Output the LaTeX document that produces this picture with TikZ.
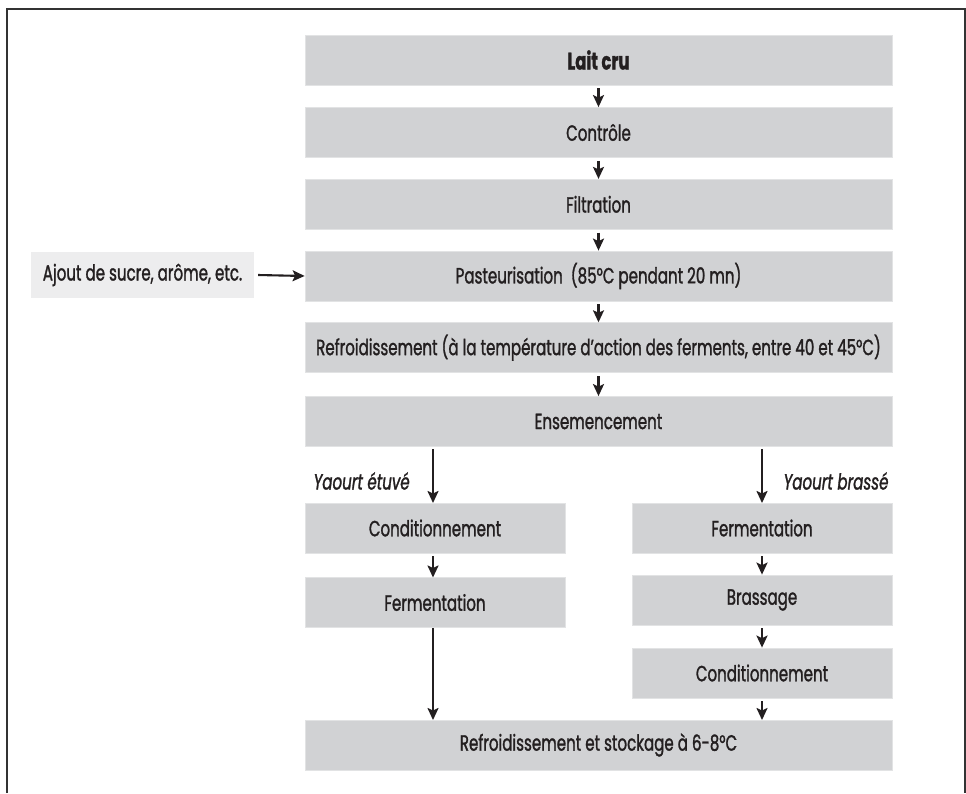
\documentclass[tikz,border=0pt]{standalone}
\usepackage{fontspec}
\setmainfont{Poppins}[FakeStretch=0.685, FakeBold=1.3]
\usetikzlibrary{arrows.meta}
\definecolor{boxgray}{HTML}{D1D2D4}
\definecolor{boxedge}{HTML}{E2E3E4}
\definecolor{lightgray}{HTML}{EDEDEE}
\definecolor{ink}{HTML}{231F20}
\begin{document}
\begin{tikzpicture}[x=1pt,y=-1pt,
  every node/.style={font=\fontsize{22}{26}\selectfont, text=ink},
  stepbox/.style={fill=boxgray, draw=boxedge, line width=0.8pt, inner sep=0pt, minimum height=50pt},
  wide/.style={stepbox, minimum width=587pt},
  half/.style={stepbox, minimum width=260pt},
  flow/.style={draw=ink, line width=2.1pt, -{Stealth[length=12pt,width=11pt,inset=2.5pt]}},
  branchlbl/.style={font=\fontsize{22}{26}\selectfont\itshape}
]
\useasboundingbox (0,0) rectangle (966,793);
\draw[line width=2pt, color=black!80] (7,793) -- (7,9) -- (965,9) -- (965,793);

\node[wide] (lait) at (598.5,60) {\fontsize{24}{28}\selectfont\bfseries Lait cru};
\node[wide] (ctrl) at (598.5,132.5) {Contrôle};
\node[wide] (filt) at (598.5,204.3) {Filtration};
\node[wide] (past) at (598.5,276) {Pasteurisation\ \ (85°C pendant 20 mn)};
\node[wide] (refr) at (598.5,347.7) {Refroidissement (à la température d’action des ferments, entre 40 et 45°C)};
\node[wide] (ense) at (598.5,421.5) {Ensemencement};

\node[half] (condL) at (435,528) {Conditionnement};
\node[half] (fermL) at (435,602.5) {Fermentation};
\node[half] (fermR) at (762,528) {Fermentation};
\node[half] (brass) at (762,600) {Brassage};
\node[half] (condR) at (762,673) {Conditionnement};

\node[wide, minimum height=50pt] (stock) at (598.5,745) {Refroidissement et stockage à 6-8°C};

\node[fill=lightgray, inner sep=0pt, minimum width=223pt, minimum height=46pt] (ajout) at (142.5,275) {Ajout de sucre, arôme, etc.};

\node[branchlbl, anchor=west] (lblL) at (310,481) {Yaourt étuvé};
\node[branchlbl, anchor=east] (lblR) at (892,481) {Yaourt brassé};

\draw[flow] (lait.south) ++(0,3) -- (ctrl.north);
\draw[flow] (ctrl.south) ++(0,3) -- (filt.north);
\draw[flow] (filt.south) ++(0,3) -- (past.north);
\draw[flow] (past.south) ++(0,3) -- (refr.north);
\draw[flow] (refr.south) ++(0,3) -- (ense.north);
\draw[flow] (ajout.east) ++(4,0) -- (past.west);

\draw[flow] (433,447) ++(0,2) -- (433,503);
\draw[flow] (762,447) ++(0,2) -- (762,503);
\draw[flow] (condL.south) ++(-2,3) -- (433,577.5);
\draw[flow] (fermR.south) ++(0,3) -- (brass.north);
\draw[flow] (brass.south) ++(0,3) -- (condR.north);
\draw[flow] (fermL.south) ++(-2,0) -- (433,720);
\draw[flow] (condR.south) ++(0,3) -- (762,720);
\end{tikzpicture}
\end{document}
